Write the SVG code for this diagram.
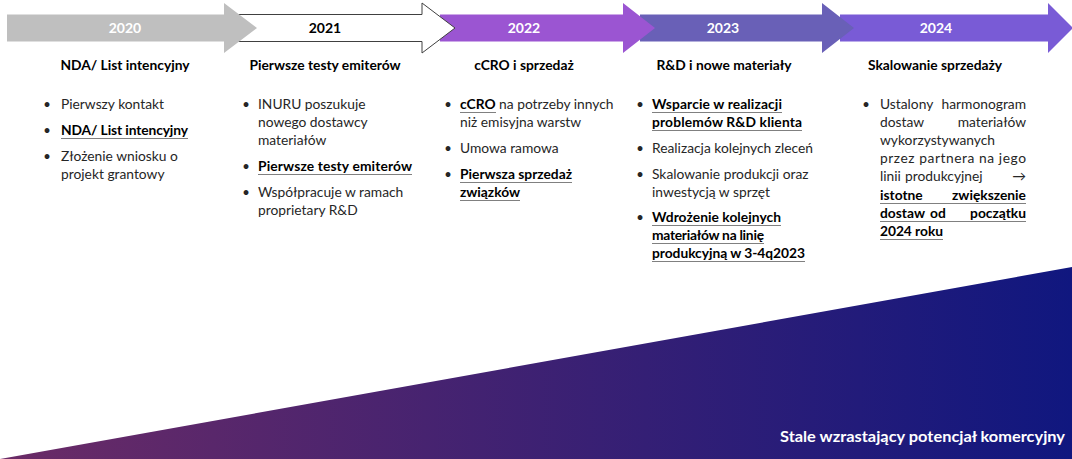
<svg xmlns="http://www.w3.org/2000/svg" width="1072" height="459" viewBox="0 0 1072 459">
<style>
.yr{font-family:Lato,"Liberation Sans",sans-serif;font-size:14px;font-weight:700;text-anchor:middle}
.hd{font-family:Lato,"Liberation Sans",sans-serif;font-size:13.8px;font-weight:700;fill:#000;text-anchor:middle}
.tx{font-family:Lato,"Liberation Sans",sans-serif;font-size:13.8px;fill:#262626}
.b{font-weight:700;fill:#000}
.bl{font-family:Lato,"Liberation Sans",sans-serif;font-size:13px;fill:#262626;text-anchor:middle}
.ul{stroke:#808080;stroke-width:1}
</style>
<defs>
<linearGradient id="g" x1="0" y1="0" x2="1072" y2="0" gradientUnits="userSpaceOnUse">
<stop offset="0" stop-color="#6b2b66"/>
<stop offset="1" stop-color="#10177f"/>
</linearGradient>
</defs>
<g id="wedge">
<polygon points="0,459 1072,267 1072,459" fill="url(#g)"/>
<text x="1065" y="442" font-family="Lato,'Liberation Sans',sans-serif" font-size="16" font-weight="700" fill="#fff" text-anchor="end" textLength="285" lengthAdjust="spacingAndGlyphs">Stale wzrastający potencjał komercyjny</text>
</g>
<g id="arrows">
<g id="arrow-2024"><path d="M840,14.5H1048V3L1073,28L1048,53V41.5H840Z" fill="#795bd6"/><text class="yr" x="936" y="33" fill="#fff">2024</text></g>
<g id="arrow-2023"><path d="M640,14.5H822V3L854,28L822,53V41.5H640Z" fill="#6960b7"/><text class="yr" x="723" y="33" fill="#fff">2023</text></g>
<g id="arrow-2022"><path d="M440,14.5H623V3L655,28L623,53V41.5H440Z" fill="#9b55d2"/><text class="yr" x="524" y="33" fill="#fff">2022</text></g>
<g id="arrow-2021"><path d="M230,14.5H422V3L455,28L422,53V41.5H230Z" fill="#fff" stroke="#404040" stroke-width="1"/><text class="yr" x="325" y="33" fill="#000">2021</text></g>
<g id="arrow-2020"><path d="M7,14.5H224V3L257,28L224,53V41.5H7Z" fill="#bfbfbf"/><text class="yr" x="125" y="33" fill="#fff">2020</text></g>
</g>
<g id="col-2020">
<text class="hd" x="125" y="70">NDA/ List intencyjny</text>
<text class="bl" x="47" y="109">•</text><text class="tx" x="61" y="109">Pierwszy kontakt</text>
<text class="bl" x="47" y="135">•</text><text class="tx b" x="61" y="135" textLength="127">NDA/ List intencyjny</text>
<line class="ul" x1="61" y1="138.5" x2="188" y2="138.5"/>
<text class="bl" x="47" y="161">•</text><text class="tx" x="61" y="161">Złożenie wniosku o</text>
<text class="tx" x="61" y="179">projekt grantowy</text>
</g>
<g id="col-2021">
<text class="hd" x="325" y="70">Pierwsze testy emiterów</text>
<text class="bl" x="246" y="109">•</text><text class="tx" x="258" y="109">INURU poszukuje</text>
<text class="tx" x="258" y="127">nowego dostawcy</text>
<text class="tx" x="258" y="145">materiałów</text>
<text class="bl" x="246" y="171">•</text><text class="tx b" x="258" y="171" textLength="154">Pierwsze testy emiterów</text>
<line class="ul" x1="258" y1="174.5" x2="412" y2="174.5"/>
<text class="bl" x="246" y="197">•</text><text class="tx" x="258" y="197">Współpracuje w ramach</text>
<text class="tx" x="258" y="215">proprietary R&amp;D</text>
</g>
<g id="col-2022">
<text class="hd" x="524" y="70">cCRO i sprzedaż</text>
<text class="bl" x="448" y="109">•</text><text class="tx" x="460" y="109"><tspan class="b">cCRO</tspan> na potrzeby innych</text>
<line class="ul" x1="460" y1="112.5" x2="496" y2="112.5"/>
<text class="tx" x="460" y="127">niż emisyjna warstw</text>
<text class="bl" x="448" y="153">•</text><text class="tx" x="460" y="153">Umowa ramowa</text>
<text class="bl" x="448" y="179">•</text><text class="tx b" x="460" y="179" textLength="112">Pierwsza sprzedaż</text>
<line class="ul" x1="460" y1="182.5" x2="572" y2="182.5"/>
<text class="tx b" x="460" y="197" textLength="60">związków</text>
<line class="ul" x1="460" y1="200.5" x2="520" y2="200.5"/>
</g>
<g id="col-2023">
<text class="hd" x="724" y="70">R&amp;D i nowe materiały</text>
<text class="bl" x="640" y="109">•</text><text class="tx b" x="652" y="109" textLength="130">Wsparcie w realizacji</text>
<line class="ul" x1="652" y1="112.5" x2="782" y2="112.5"/>
<text class="tx b" x="652" y="127" textLength="150">problemów R&amp;D klienta</text>
<line class="ul" x1="652" y1="130.5" x2="802" y2="130.5"/>
<text class="bl" x="640" y="153">•</text><text class="tx" x="652" y="153">Realizacja kolejnych zleceń</text>
<text class="bl" x="640" y="179">•</text><text class="tx" x="652" y="179">Skalowanie produkcji oraz</text>
<text class="tx" x="652" y="197">inwestycją w sprzęt</text>
<text class="bl" x="640" y="222">•</text><text class="tx b" x="652" y="222" textLength="129">Wdrożenie kolejnych</text>
<line class="ul" x1="652" y1="225.5" x2="781" y2="225.5"/>
<text class="tx b" x="652" y="240" textLength="112">materiałów na linię</text>
<line class="ul" x1="652" y1="243.5" x2="764" y2="243.5"/>
<text class="tx b" x="652" y="258" textLength="153">produkcyjną w 3-4q2023</text>
<line class="ul" x1="652" y1="261.5" x2="805" y2="261.5"/>
</g>
<g id="col-2024">
<text class="hd" x="935" y="70">Skalowanie sprzedaży</text>
<text class="bl" x="866" y="109">•</text>
<text class="tx" x="880" y="109">Ustalony</text><text class="tx" x="1026" y="109" text-anchor="end">harmonogram</text>
<text class="tx" x="880" y="127">dostaw</text><text class="tx" x="1026" y="127" text-anchor="end">materiałów</text>
<text class="tx" x="880" y="145">wykorzystywanych</text>
<text class="tx" x="880" y="163" textLength="146">przez partnera na jego</text>
<text class="tx" x="880" y="181">linii</text><text class="tx" x="905" y="181">produkcyjnej</text><text class="tx" x="1026" y="181" text-anchor="end">→</text>
<text class="tx b" x="880" y="200">istotne</text><text class="tx b" x="1026" y="200" text-anchor="end">zwiększenie</text>
<line class="ul" x1="880" y1="203.5" x2="1026" y2="203.5"/>
<text class="tx b" x="880" y="218">dostaw</text><text class="tx b" x="930" y="218">od</text><text class="tx b" x="1026" y="218" text-anchor="end">początku</text>
<line class="ul" x1="880" y1="221.5" x2="1026" y2="221.5"/>
<text class="tx b" x="880" y="236" textLength="63">2024 roku</text>
<line class="ul" x1="880" y1="239.5" x2="943" y2="239.5"/>
</g>
</svg>
